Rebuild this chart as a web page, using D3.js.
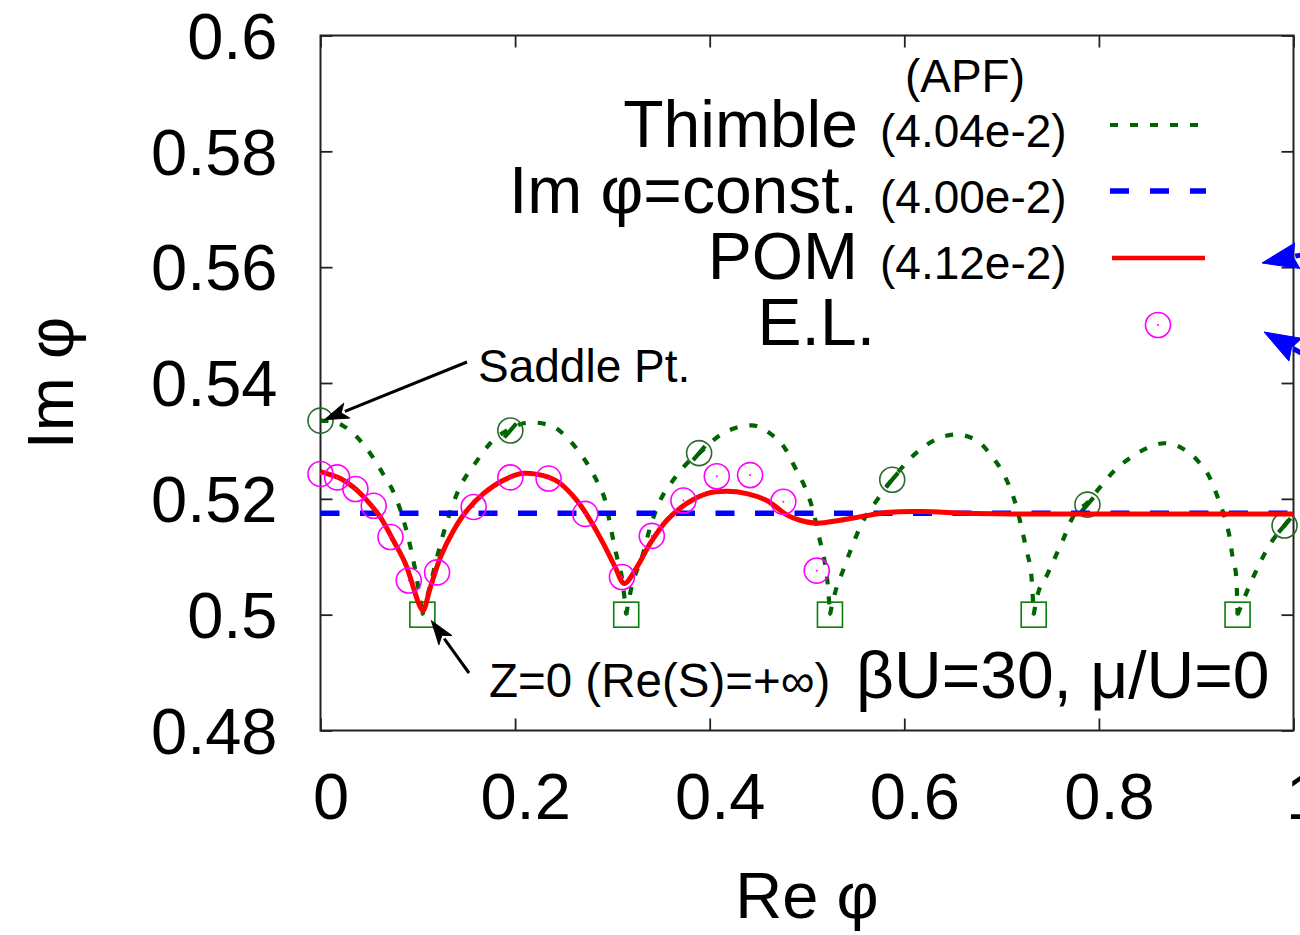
<!DOCTYPE html>
<html><head><meta charset="utf-8">
<script src="https://cdn.jsdelivr.net/npm/d3@7"></script>
<style>
body{margin:0;background:#fff;}
svg text{font-family:"Liberation Sans",Arial,Helvetica,sans-serif;fill:#000;}
</style>
</head><body>
<svg id="chart" width="1300" height="935"></svg>
<script>
// ---------------- data ----------------
const xTickValues = [0, 0.2, 0.4, 0.6, 0.8, 1];
const xTickLabels = ["0", "0.2", "0.4", "0.6", "0.8", "1"];
const yTickValues = [0.48, 0.5, 0.52, 0.54, 0.56, 0.58, 0.6];
const yTickLabels = ["0.48", "0.5", "0.52", "0.54", "0.56", "0.58", "0.6"];

// Thimble (green dotted) : [Re phi, Im phi]
const thimble = [
 [0,0.5335],[0.0103,0.5334],[0.0223,0.5327],[0.0513,0.5278],[0.0633,0.5246],[0.0787,0.5197],[0.0924,0.5117],[0.0993,0.5059],[0.1047,0.5],
 [0.1095,0.5030],[0.1263,0.5140],[0.1403,0.5209],[0.1609,0.5266],[0.1745,0.5296],[0.1951,0.5321],[0.2156,0.5332],[0.2361,0.5327],[0.2515,0.5309],[0.2649,0.5283],[0.2752,0.5258],[0.2854,0.5226],[0.2926,0.5197],[0.2995,0.5140],[0.3047,0.5099],[0.3098,0.5064],[0.3142,0.5],
 [0.3183,0.5037],[0.3316,0.5106],[0.3388,0.5151],[0.3491,0.5197],[0.3624,0.5232],[0.3765,0.5261],[0.3901,0.5280],[0.4073,0.5306],[0.4240,0.5321],[0.4432,0.5327],[0.4620,0.5313],[0.4774,0.5287],[0.4877,0.5254],[0.4979,0.5220],[0.5062,0.5180],[0.5133,0.5128],[0.5185,0.5088],[0.5216,0.5047],[0.5236,0.5],
 [0.5287,0.5037],[0.5370,0.5076],[0.5459,0.5116],[0.5562,0.5157],[0.5716,0.5197],[0.5873,0.5233],[0.6024,0.5263],[0.6178,0.5287],[0.6345,0.5304],[0.6537,0.5311],[0.6742,0.5301],[0.6879,0.5278],[0.6999,0.5249],[0.7084,0.5220],[0.7153,0.5186],[0.7204,0.5151],[0.7256,0.5111],[0.7307,0.5065],[0.7330,0.5],
 [0.7361,0.5028],[0.7474,0.5071],[0.7628,0.5128],[0.7731,0.5168],[0.7885,0.5194],[0.8026,0.5223],[0.8162,0.5249],[0.8316,0.5270],[0.8488,0.5287],[0.8675,0.5296],[0.8860,0.5287],[0.9014,0.5266],[0.9138,0.5237],[0.9220,0.5203],[0.9292,0.5168],[0.9343,0.5134],[0.9374,0.5099],[0.9412,0.5065],[0.9425,0.5],
 [0.9497,0.5030],[0.9651,0.5088],[0.9784,0.5128],[0.9908,0.5154],[1.0,0.5175]
];
// saddle points on the thimbles (green open circles)
const thimbleSaddles = [[0,0.5335],[0.1951,0.5318],[0.3891,0.5279],[0.5876,0.5233],[0.7882,0.5190],[0.9908,0.5154]];
// zeros of Z (green open squares)
const thimbleZeros = [[0.1047,0.5],[0.3142,0.5],[0.5236,0.5],[0.7330,0.5],[0.9425,0.5]];
// Im phi = const. (blue dashed)
const constLine = [[0,0.5175],[1,0.5175]];
// POM (red solid)
const pom = [
 [0,0.5247],[0.0205,0.5235],[0.0339,0.5220],[0.0479,0.5197],[0.0616,0.5168],[0.0749,0.5128],[0.0873,0.5088],[0.0955,0.5047],[0.1006,0.5021],[0.1052,0.5007],
 [0.1129,0.5047],[0.1232,0.5099],[0.1366,0.5145],[0.1506,0.5180],[0.1674,0.5209],[0.1879,0.5232],[0.2084,0.5244],[0.2290,0.5240],[0.2444,0.5229],[0.2636,0.5197],
 [0.2772,0.5163],[0.2906,0.5123],[0.3029,0.5082],[0.3121,0.5054],[0.3252,0.5082],[0.3388,0.5123],[0.3560,0.5163],[0.3765,0.5192],[0.3970,0.5209],[0.4176,0.5213],
 [0.4381,0.5209],[0.4586,0.5197],[0.4805,0.5171],[0.4928,0.5163],[0.5100,0.5158],[0.5339,0.5163],[0.5613,0.5171],[0.5852,0.5177],[0.6191,0.5178],[0.6640,0.5175],
 [0.7115,0.5174],[0.8008,0.5174],[1.0,0.5174]
];
// E.L. (magenta open circles)
const el = [
 [0,0.5243],[0.0171,0.5237],[0.0359,0.5217],[0.0547,0.5188],[0.0719,0.5134],[0.0907,0.5059],[0.1198,0.5073],[0.1574,0.5186],[0.1951,0.5237],
 [0.2344,0.5235],[0.2721,0.5174],[0.3098,0.5065],[0.3405,0.5136],[0.3730,0.5197],[0.4073,0.5239],[0.4415,0.5241],[0.4757,0.5195],[0.5100,0.5076]
];
const legendNames = ["Thimble", "Im φ=const.", "POM", "E.L."];
const legendAPF = ["(4.04e-2)", "(4.00e-2)", "(4.12e-2)", ""];
const legendHeader = "(APF)";
const xTitle = "Re φ";
const yTitle = "Im φ";
const saddleLabel = "Saddle Pt.";
const zeroLabel = "Z=0 (Re(S)=+∞)";
const paramLabel = "βU=30, μ/U=0";

// ---------------- styles ----------------
const C_GREEN = "#006400", C_GREEN_C = "#2d6a2d", C_GREEN_S = "#0b7d0b";
const C_BLUE = "#0000ff", C_RED = "#ff0000", C_MAG = "#ff00ff";

const svg = d3.select("#chart");
svg.append("rect").attr("width",1300).attr("height",935).attr("fill","#fff");

const L = 320.5, R = 1293.5, T = 35.5, B = 730.5;
const x = d3.scaleLinear().domain([0,1]).range([L,R]);
const y = d3.scaleLinear().domain([0.48,0.6]).range([B,T]);

// ---------------- axes ----------------
const tickLen = 12;
const gB = svg.append("g").attr("transform",`translate(0,${B})`)
  .call(d3.axisBottom(x).tickValues(xTickValues).tickSize(-tickLen).tickPadding(42)
     .tickFormat((d,i)=>xTickLabels[i]));
gB.selectAll("text").attr("dx",10).attr("font-size",65);
const gT = svg.append("g").attr("transform",`translate(0,${T})`)
  .call(d3.axisTop(x).tickValues(xTickValues).tickSize(-tickLen).tickFormat(""));
const gL = svg.append("g").attr("transform",`translate(${L},0)`)
  .call(d3.axisLeft(y).tickValues(yTickValues).tickSize(-tickLen).tickPadding(43)
     .tickFormat((d,i)=>yTickLabels[i]));
gL.selectAll("text").attr("dy","0.35em").attr("font-size",65);
const gR = svg.append("g").attr("transform",`translate(${R},0)`)
  .call(d3.axisRight(y).tickValues(yTickValues).tickSize(-tickLen).tickFormat(""));
[gB,gT,gL,gR].forEach(g=>{
  g.select(".domain").remove();
  g.selectAll("line").attr("stroke","#222").attr("stroke-width",1.8);
  g.selectAll("text").attr("fill","#000").style("font-family",'"Liberation Sans",Arial,sans-serif');
});
svg.append("rect").attr("x",L).attr("y",T).attr("width",R-L).attr("height",B-T)
  .attr("fill","none").attr("stroke","#222").attr("stroke-width",2);

svg.append("text").attr("x",(L+R)/2).attr("y",918).attr("text-anchor","middle")
  .attr("font-size",65).text(xTitle);
svg.append("text").attr("transform",`translate(73,${(T+B)/2}) rotate(-90)`)
  .attr("text-anchor","middle").attr("font-size",65).text(yTitle);

// ---------------- plot ----------------
const plot = svg.append("g");

// thimble: split into arches at the zeros (cusps)
const arches = [];
let cur = [];
thimble.forEach(p=>{
  cur.push(p);
  if (p[1] === 0.5) { arches.push(cur); cur = [p]; }
});
if (cur.length > 1) arches.push(cur);
const archLine = d3.line().x(d=>x(d[0])).y(d=>y(d[1])).curve(d3.curveMonotoneX);
plot.selectAll("path.arch").data(arches).enter().append("path")
  .attr("class","arch").attr("d",archLine).attr("fill","none")
  .attr("stroke",C_GREEN).attr("stroke-width",4.2).attr("stroke-dasharray","8,12");

// saddle circles
plot.selectAll("circle.sad").data(thimbleSaddles).enter().append("circle")
  .attr("class","sad").attr("cx",d=>x(d[0])).attr("cy",d=>y(d[1])).attr("r",12.5)
  .attr("fill","none").attr("stroke",C_GREEN_C).attr("stroke-width",1.6);
plot.selectAll("line.sadl").data(thimbleSaddles.slice(1)).enter().append("line")
  .attr("x1",d=>x(d[0])-6).attr("y1",d=>y(d[1])+7).attr("x2",d=>x(d[0])+6).attr("y2",d=>y(d[1])-7)
  .attr("stroke",C_GREEN).attr("stroke-width",4.2);
// zero squares
plot.selectAll("rect.zero").data(thimbleZeros).enter().append("rect")
  .attr("x",d=>x(d[0])-12.5).attr("y",d=>y(d[1])-12.5).attr("width",25).attr("height",25)
  .attr("fill","none").attr("stroke",C_GREEN_S).attr("stroke-width",1.6);
plot.selectAll("circle.zd").data(thimbleZeros).enter().append("circle")
  .attr("cx",d=>x(d[0])).attr("cy",d=>y(d[1])).attr("r",1.3).attr("fill",C_GREEN_S);

// const line
const lin = d3.line().x(d=>x(d[0])).y(d=>y(d[1]));
plot.append("path").attr("d",lin(constLine)).attr("fill","none")
  .attr("stroke",C_BLUE).attr("stroke-width",5.5).attr("stroke-dasharray","19,20.5");

// POM
const pomLine = d3.line().x(d=>x(d[0])).y(d=>y(d[1])).curve(d3.curveCatmullRom.alpha(0.5));
plot.append("path").attr("d",pomLine(pom)).attr("fill","none")
  .attr("stroke",C_RED).attr("stroke-width",5).attr("stroke-linejoin","round");

// E.L.
plot.selectAll("circle.el").data(el).enter().append("circle")
  .attr("cx",d=>x(d[0])).attr("cy",d=>y(d[1])).attr("r",12.5)
  .attr("fill","none").attr("stroke",C_MAG).attr("stroke-width",1.6);
plot.selectAll("circle.eld").data(el).enter().append("circle")
  .attr("cx",d=>x(d[0])).attr("cy",d=>y(d[1])).attr("r",1).attr("fill",C_MAG);

// ---------------- legend ----------------
const lg = svg.append("g");
lg.append("text").attr("x",965).attr("y",92).attr("text-anchor","middle").attr("font-size",46).text(legendHeader);
const rowY = [147, 213, 279, 345];
const sampleY = [125, 191, 258, 325];
legendNames.forEach((n,i)=>{
  lg.append("text").attr("x", i===3 ? 875 : 858).attr("y",rowY[i]).attr("text-anchor","end")
    .attr("font-size",66).text(n);
  if (legendAPF[i]) lg.append("text").attr("x",880).attr("y",rowY[i]).attr("font-size",46).text(legendAPF[i]);
});
lg.append("line").attr("x1",1110).attr("x2",1202).attr("y1",sampleY[0]).attr("y2",sampleY[0])
  .attr("stroke",C_GREEN).attr("stroke-width",4.2).attr("stroke-dasharray","8,12");
lg.append("line").attr("x1",1110).attr("x2",1206).attr("y1",sampleY[1]).attr("y2",sampleY[1])
  .attr("stroke",C_BLUE).attr("stroke-width",5.5).attr("stroke-dasharray","19,21");
lg.append("line").attr("x1",1112).attr("x2",1205).attr("y1",sampleY[2]).attr("y2",sampleY[2])
  .attr("stroke",C_RED).attr("stroke-width",4.5);
lg.append("circle").attr("cx",1158).attr("cy",sampleY[3]).attr("r",12.5)
  .attr("fill","none").attr("stroke",C_MAG).attr("stroke-width",1.6);
lg.append("circle").attr("cx",1158).attr("cy",sampleY[3]).attr("r",1).attr("fill",C_MAG);

// ---------------- annotations ----------------
function arrow(g, x1, y1, x2, y2, color, w, hl, hw, notch){
  const dx = x2-x1, dy = y2-y1, len = Math.hypot(dx,dy), ux = dx/len, uy = dy/len;
  const bx = x2-ux*hl, by = y2-uy*hl;
  g.append("line").attr("x1",x1).attr("y1",y1).attr("x2",bx+ux*2).attr("y2",by+uy*2)
    .attr("stroke",color).attr("stroke-width",w);
  g.append("path").attr("d",`M${x2},${y2}L${bx-uy*hw},${by+ux*hw}L${bx+ux*hl*notch},${by+uy*hl*notch}L${bx+uy*hw},${by-ux*hw}Z`)
    .attr("fill",color).attr("stroke",color).attr("stroke-width",1);
}
const ann = svg.append("g");
arrow(ann, 467, 362, x(thimbleSaddles[0][0])+4, y(thimbleSaddles[0][1])-1, "#000", 3, 24, 8, 0.25);
ann.append("text").attr("x",478).attr("y",382).attr("font-size",46).text(saddleLabel);
arrow(ann, 469, 673, x(thimbleZeros[0][0])+9, y(thimbleZeros[0][1])+6, "#000", 3, 24, 8, 0.25);
ann.append("text").attr("x",489).attr("y",697).attr("font-size",47.5).text(zeroLabel);
ann.append("text").attr("x",856).attr("y",698).attr("font-size",66).text(paramLabel);

// blue arrows at the right (cut by the frame of the picture)
arrow(ann, 1340, 247, 1262, 263, C_BLUE, 5, 36, 13, 0.12);
arrow(ann, 1340, 375, 1264, 332, C_BLUE, 5, 36, 13, 0.12);
</script>
</body></html>
